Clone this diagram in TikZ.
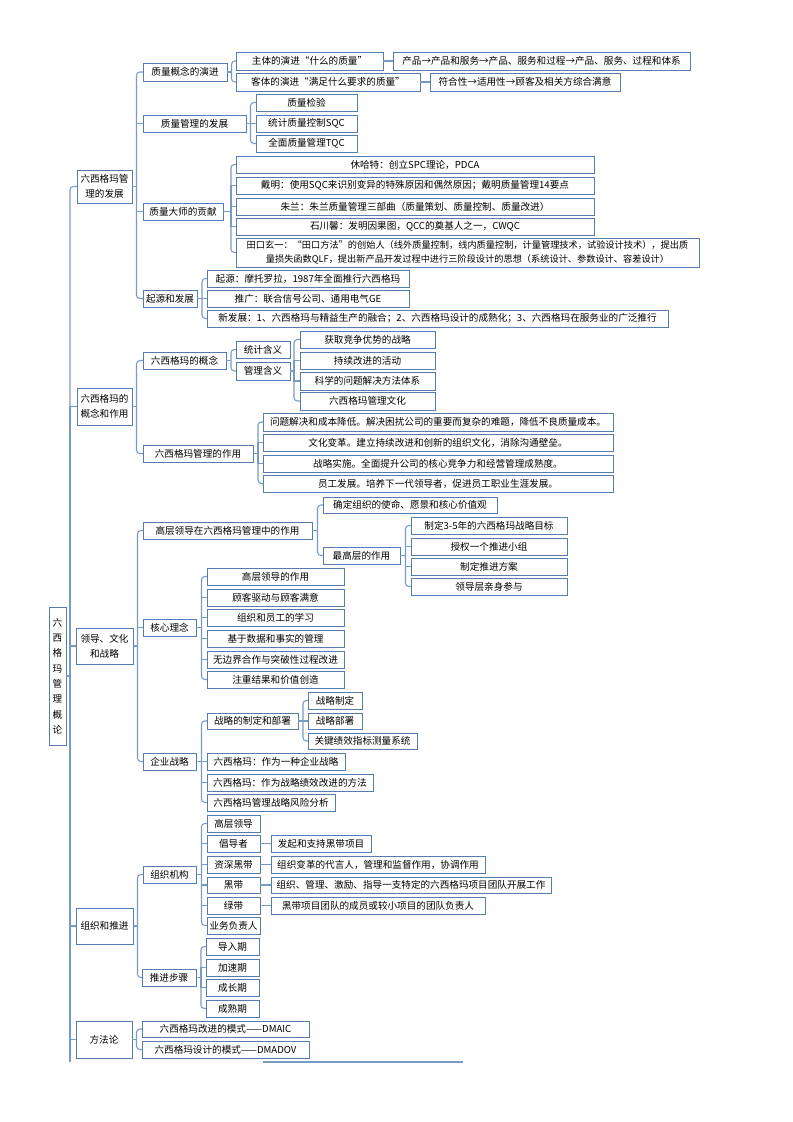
\documentclass[tikz,border=0pt]{standalone}
\usepackage{fontspec}
\setmainfont{Noto Sans CJK SC}
\definecolor{boxc}{RGB}{84,124,174}
\definecolor{linec}{RGB}{120,154,198}
\newcommand\mmfs{\fontsize{7.2}{11.5}\selectfont}
\tikzset{
  bx/.style={draw=boxc, line width=0.75pt, fill=white, inner sep=0pt, outer sep=0pt, font=\mmfs, text=black, align=center},
  conn/.style={draw=linec, line width=0.8pt},
}
% #1 options, #2 name, #3 x1, #4 y1, #5 x2, #6 y2, #7 text (pixel coordinates)
\newcommand\mmbox[7][]{\node[bx,minimum width={(#5-#3)*0.75pt},minimum height={(#6-#4)*0.75pt},#1] (#2) at ({(#3+#5)/2},{(#4+#6)/2}) {#7};}
\newcommand\mmends[3]{\draw[conn] (#1.east) -- ++(#2,0);
  \foreach \c in {#3}{\draw[conn,rounded corners=2.5pt] (#1.east) ++(#2,0) |- (\c.west);}}
\newcommand\mmmids[3]{\foreach \c in {#3}{\draw[conn] (#1.east) ++(#2,0) |- (\c.west);}}
\newcommand\mmdir[2]{\draw[conn] (#1.east) -- (#2.west);}
\begin{document}
\begin{tikzpicture}[x=0.75pt,y=-0.75pt]
\fill[white] (0,0) rectangle (793,1122);
\useasboundingbox (0,0) rectangle (793,1122);

% root
\mmbox[font=\fontsize{7.2}{11.5}\selectfont]{root}{49}{607}{66}{745}{六\\西\\格\\玛\\管\\理\\概\\论}

% level 1
\mmbox{L1a}{77}{170}{132}{203}{六西格玛管\\理的发展}
\mmbox{L1b}{77}{388}{132}{425}{六西格玛的\\概念和作用}
\mmbox{L1c}{76}{628}{133}{664}{领导、文化\\和战略}
\mmbox{L1d}{76}{908}{133}{944}{组织和推进}
\mmbox{L1e}{76}{1021}{132}{1058}{方法论}

% branch A
\mmbox{A1}{143}{63}{227}{81}{质量概念的演进}
\mmbox{A11}{236}{52}{383}{70}{主体的演进“什么的质量”}
\mmbox{A111}{393}{52}{690}{70}{产品→产品和服务→产品、服务和过程→产品、服务、过程和体系}
\mmbox{A12}{236}{73}{420}{91}{客体的演进“满足什么要求的质量”}
\mmbox{A121}{430}{73}{620}{91}{符合性→适用性→顾客及相关方综合满意}
\mmbox{A2}{143}{115}{246}{132}{质量管理的发展}
\mmbox{A21}{256}{94}{357}{111}{质量检验}
\mmbox{A22}{256}{115}{357}{132}{统计质量控制SQC}
\mmbox{A23}{256}{135}{357}{152}{全面质量管理TQC}
\mmbox{A3}{143}{203}{223}{220}{质量大师的贡献}
\mmbox{A31}{236}{156}{594}{173}{休哈特：创立SPC理论，PDCA}
\mmbox{A32}{236}{177}{594}{194}{戴明：使用SQC来识别变异的特殊原因和偶然原因；戴明质量管理14要点}
\mmbox{A33}{236}{198}{594}{215}{朱兰：朱兰质量管理三部曲（质量策划、质量控制、质量改进）}
\mmbox{A34}{236}{218}{594}{235}{石川馨：发明因果图，QCC的奠基人之一，CWQC}
\mmbox[font=\fontsize{6.9}{11}\selectfont]{A35}{236}{238}{699}{267}{田口玄一：“田口方法”的创始人（线外质量控制，线内质量控制，计量管理技术，试验设计技术），提出质\\量损失函数QLF，提出新产品开发过程中进行三阶段设计的思想（系统设计、参数设计、容差设计）}
\mmbox{A4}{143}{290}{197}{307}{起源和发展}
\mmbox{A41}{207}{270}{409}{287}{起源：摩托罗拉，1987年全面推行六西格玛}
\mmbox{A42}{207}{290}{409}{307}{推广：联合信号公司、通用电气GE}
\mmbox{A43}{207}{310}{668}{327}{新发展：1、六西格玛与精益生产的融合；2、六西格玛设计的成熟化；3、六西格玛在服务业的广泛推行}

% branch B
\mmbox{B1}{143}{352}{226}{369}{六西格玛的概念}
\mmbox{B11}{236}{341}{290}{358}{统计含义}
\mmbox{B12}{236}{362}{290}{380}{管理含义}
\mmbox{B121}{300}{331}{435}{348}{获取竞争优势的战略}
\mmbox{B122}{300}{352}{435}{369}{持续改进的活动}
\mmbox{B123}{300}{372}{435}{390}{科学的问题解决方法体系}
\mmbox{B124}{300}{392}{435}{410}{六西格玛管理文化}
\mmbox{B2}{143}{445}{253}{462}{六西格玛管理的作用}
\mmbox{B21}{263}{413}{613}{431}{问题解决和成本降低。解决困扰公司的重要而复杂的难题，降低不良质量成本。}
\mmbox{B22}{263}{434}{613}{451}{文化变革。建立持续改进和创新的组织文化，消除沟通壁垒。}
\mmbox{B23}{263}{455}{613}{472}{战略实施。全面提升公司的核心竞争力和经营管理成熟度。}
\mmbox{B24}{263}{475}{613}{492}{员工发展。培养下一代领导者，促进员工职业生涯发展。}

% branch C
\mmbox{C1}{143}{522}{312}{539}{高层领导在六西格玛管理中的作用}
\mmbox{C11}{323}{497}{497}{513}{确定组织的使命、愿景和核心价值观}
\mmbox{C12}{323}{547}{400}{564}{最高层的作用}
\mmbox{C121}{411}{517}{567}{534}{制定3-5年的六西格玛战略目标}
\mmbox{C122}{411}{538}{567}{555}{授权一个推进小组}
\mmbox{C123}{411}{558}{567}{575}{制定推进方案}
\mmbox{C124}{411}{578}{567}{595}{领导层亲身参与}
\mmbox{C2}{143}{619}{196}{636}{核心理念}
\mmbox{C21}{207}{568}{344}{585}{高层领导的作用}
\mmbox{C22}{207}{589}{344}{606}{顾客驱动与顾客满意}
\mmbox{C23}{207}{609}{344}{626}{组织和员工的学习}
\mmbox{C24}{207}{630}{344}{647}{基于数据和事实的管理}
\mmbox{C25}{207}{651}{344}{668}{无边界合作与突破性过程改进}
\mmbox{C26}{207}{671}{344}{688}{注重结果和价值创造}
\mmbox{C3}{143}{753}{196}{770}{企业战略}
\mmbox{C31}{207}{713}{298}{729}{战略的制定和部署}
\mmbox{C311}{308}{692}{362}{709}{战略制定}
\mmbox{C312}{308}{713}{362}{729}{战略部署}
\mmbox{C313}{308}{733}{417}{749}{关键绩效指标测量系统}
\mmbox{C32}{207}{753}{345}{770}{六西格玛：作为一种企业战略}
\mmbox{C33}{207}{774}{373}{791}{六西格玛：作为战略绩效改进的方法}
\mmbox{C34}{207}{794}{335}{811}{六西格玛管理战略风险分析}

% branch D
\mmbox{D1}{143}{866}{196}{883}{组织机构}
\mmbox{D11}{207}{815}{260}{832}{高层领导}
\mmbox{D12}{207}{835}{260}{852}{倡导者}
\mmbox{D121}{271}{835}{371}{852}{发起和支持黑带项目}
\mmbox{D13}{207}{856}{260}{873}{资深黑带}
\mmbox{D131}{271}{856}{485}{873}{组织变革的代言人，管理和监督作用，协调作用}
\mmbox{D14}{207}{877}{260}{893}{黑带}
\mmbox{D141}{271}{877}{551}{893}{组织、管理、激励、指导一支特定的六西格玛项目团队开展工作}
\mmbox{D15}{207}{897}{260}{914}{绿带}
\mmbox{D151}{271}{897}{485}{914}{黑带项目团队的成员或较小项目的团队负责人}
\mmbox{D16}{207}{917}{260}{934}{业务负责人}
\mmbox{D2}{142}{969}{196}{986}{推进步骤}
\mmbox{D21}{206}{938}{259}{955}{导入期}
\mmbox{D22}{206}{959}{259}{976}{加速期}
\mmbox{D23}{206}{979}{259}{996}{成长期}
\mmbox{D24}{206}{1000}{259}{1017}{成熟期}

% branch E
\mmbox{E1}{142}{1021}{309}{1037}{六西格玛改进的模式——DMAIC}
\mmbox{E2}{142}{1041}{309}{1058}{六西格玛设计的模式——DMADOV}

% connectors
\coordinate (trunkend) at (70,1062);
\mmends{root}{4}{L1a}
\mmmids{root}{4}{L1b,L1c,L1d,L1e}
\draw[conn] (root.east) ++(4,0) -- (trunkend);

\mmends{L1a}{4.5}{A1,A4}
\mmmids{L1a}{4.5}{A2,A3}
\mmends{A1}{4.5}{A11,A12}
\mmdir{A11}{A111}
\mmdir{A12}{A121}
\mmends{A2}{4.5}{A21,A23}
\mmmids{A2}{4.5}{A22}
\mmends{A3}{8}{A31,A35}
\mmmids{A3}{8}{A32,A33,A34}
\mmends{A4}{5}{A41,A43}
\mmmids{A4}{5}{A42}

\mmends{L1b}{4.5}{B1,B2}
\mmends{B1}{5}{B11,B12}
\mmends{B12}{4}{B121,B124}
\mmmids{B12}{4}{B122,B123}
\mmends{B2}{5}{B21,B24}
\mmmids{B2}{5}{B22,B23}

\mmends{L1c}{4.5}{C1,C3}
\mmmids{L1c}{4.5}{C2}
\mmends{C1}{5.5}{C11,C12}
\mmends{C12}{5.5}{C121,C124}
\mmmids{C12}{5.5}{C122,C123}
\mmends{C2}{5.5}{C21,C26}
\mmmids{C2}{5.5}{C22,C23,C24,C25}
\mmends{C3}{5.5}{C31,C34}
\mmmids{C3}{5.5}{C32,C33}
\mmends{C31}{5}{C311,C313}
\mmmids{C31}{5}{C312}

\mmends{L1d}{4.5}{D1,D2}
\mmends{D1}{5.5}{D11,D16}
\mmmids{D1}{5.5}{D12,D13,D14,D15}
\mmdir{D12}{D121}
\mmdir{D13}{D131}
\mmdir{D14}{D141}
\mmdir{D15}{D151}
\mmends{D2}{5}{D21,D24}
\mmmids{D2}{5}{D22,D23}

\mmends{L1e}{4.5}{E1,E2}

% fragment of the next part at the page foot
\coordinate (fragL) at (263,1062);
\coordinate (fragR) at (463,1062);
\draw[conn, line width=1pt] (fragL) -- (fragR);
\end{tikzpicture}
\end{document}
